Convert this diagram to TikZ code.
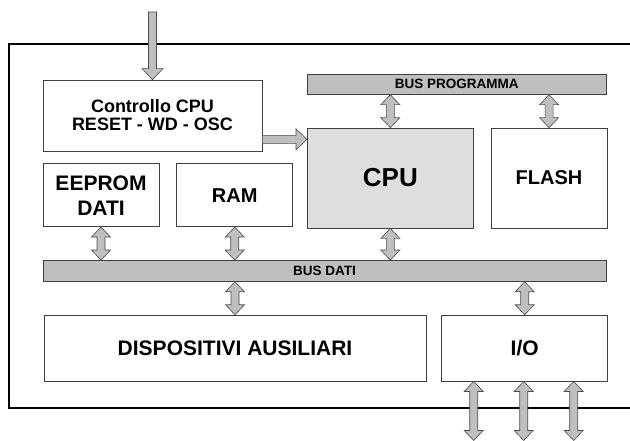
\documentclass[tikz,border=0pt]{standalone}
\usepackage{fontspec}
\setmainfont{Liberation Sans}
\usetikzlibrary{positioning,calc}

\begin{document}
\begin{tikzpicture}[x=1pt, y=1pt,
    box/.style={draw=black!75, line width=0.7pt, fill=white, inner sep=0pt, align=center},
    bus/.style={box, fill=black!25, font=\fontsize{13.5}{14}\selectfont\bfseries},
    txt/.style={font=\fontsize{#1}{#1}\selectfont\bfseries},
    fatone/.style={draw=black!70, fill=black!25, line width=0.6pt, to path={
        ($(\tikztostart)!4pt!90:(\tikztotarget)$)
        -- ($(\tikztotarget)!11pt!(\tikztostart)!4pt!-90:(\tikztostart)$)
        -- ($(\tikztotarget)!11pt!(\tikztostart)!10.5pt!-90:(\tikztostart)$)
        -- (\tikztotarget)
        -- ($(\tikztotarget)!11pt!(\tikztostart)!10.5pt!90:(\tikztostart)$)
        -- ($(\tikztotarget)!11pt!(\tikztostart)!4pt!90:(\tikztostart)$)
        -- ($(\tikztostart)!4pt!-90:(\tikztotarget)$) -- cycle}},
    fatdbl/.style={draw=black!70, fill=black!25, line width=0.6pt, to path={
        -- ($(\tikztostart)!10pt!(\tikztotarget)!9.5pt!90:(\tikztotarget)$)
        -- ($(\tikztostart)!10pt!(\tikztotarget)!4pt!90:(\tikztotarget)$)
        -- ($(\tikztotarget)!10pt!(\tikztostart)!4pt!-90:(\tikztostart)$)
        -- ($(\tikztotarget)!10pt!(\tikztostart)!9.5pt!-90:(\tikztostart)$)
        -- (\tikztotarget)
        -- ($(\tikztotarget)!10pt!(\tikztostart)!9.5pt!90:(\tikztostart)$)
        -- ($(\tikztotarget)!10pt!(\tikztostart)!4pt!90:(\tikztostart)$)
        -- ($(\tikztostart)!10pt!(\tikztotarget)!4pt!-90:(\tikztotarget)$)
        -- ($(\tikztostart)!10pt!(\tikztotarget)!9.5pt!-90:(\tikztotarget)$)
        -- cycle}}]

    \useasboundingbox (0,0) rectangle (630,440);
    \draw[line width=2pt] (632,396) -| (9,32) -- (632,32);

    \node[box, txt=18, minimum width=219pt, minimum height=71pt] (ctrl) at (152.5,324.5) {Controllo CPU\\RESET - WD - OSC};
    \node[bus, anchor=north west, minimum width=299pt, minimum height=20pt] (busprog) at (307,366) {BUS PROGRAMMA};
    \node[box, fill=black!13, txt=26, minimum width=166pt, minimum height=100pt, below right=33pt and 0pt of busprog.south west] (cpu) {CPU};
    \node[box, txt=20, minimum width=116pt, minimum height=100pt, right=17pt of cpu] (flash) {FLASH};

    \node[box, font=\fontsize{21}{25}\selectfont\bfseries, minimum width=116pt, minimum height=63pt, below right=12pt and 0pt of ctrl.south west] (eeprom) {EEPROM\\DATI};
    \node[box, txt=20, minimum width=116pt, minimum height=63pt, right=17pt of eeprom] (ram) {RAM};

    \node[bus, minimum width=563pt, minimum height=21pt, below right=33pt and 0pt of eeprom.south west] (busdati) {BUS DATI};
    \node[box, txt=21, minimum width=382pt, minimum height=66pt, below right=33pt and 1pt of busdati.south west] (disp) {DISPOSITIVI AUSILIARI};
    \node[box, txt=21, minimum width=166pt, minimum height=66pt, right=15pt of disp] (io) {I/O};

    \coordinate (in) at (152.5,428);
    \coordinate (c2) at ([yshift=12pt]ctrl.south east);
    \draw[fatone] (in) to (in |- ctrl.north);
    \draw[fatone] (c2) to (c2 -| cpu.west);

    \draw[fatdbl] (cpu.north) to (cpu.north |- busprog.south);
    \draw[fatdbl] (flash.north) to (flash.north |- busprog.south);
    \draw[fatdbl] (eeprom.south) to (eeprom.south |- busdati.north);
    \draw[fatdbl] (ram.south) to (ram.south |- busdati.north);
    \draw[fatdbl] (cpu.south) to (cpu.south |- busdati.north);
    \draw[fatdbl] (busdati.south -| disp.north) to (disp.north);
    \draw[fatdbl] (busdati.south -| io.north) to (io.north);

    \foreach \x [count=\i] in {-51,-1,49} {
        \coordinate (pin\i) at ([xshift=\x pt, yshift=-59pt]io.south);
        \draw[fatdbl] (pin\i |- io.south) to (pin\i);
    }
\end{tikzpicture}
\end{document}
